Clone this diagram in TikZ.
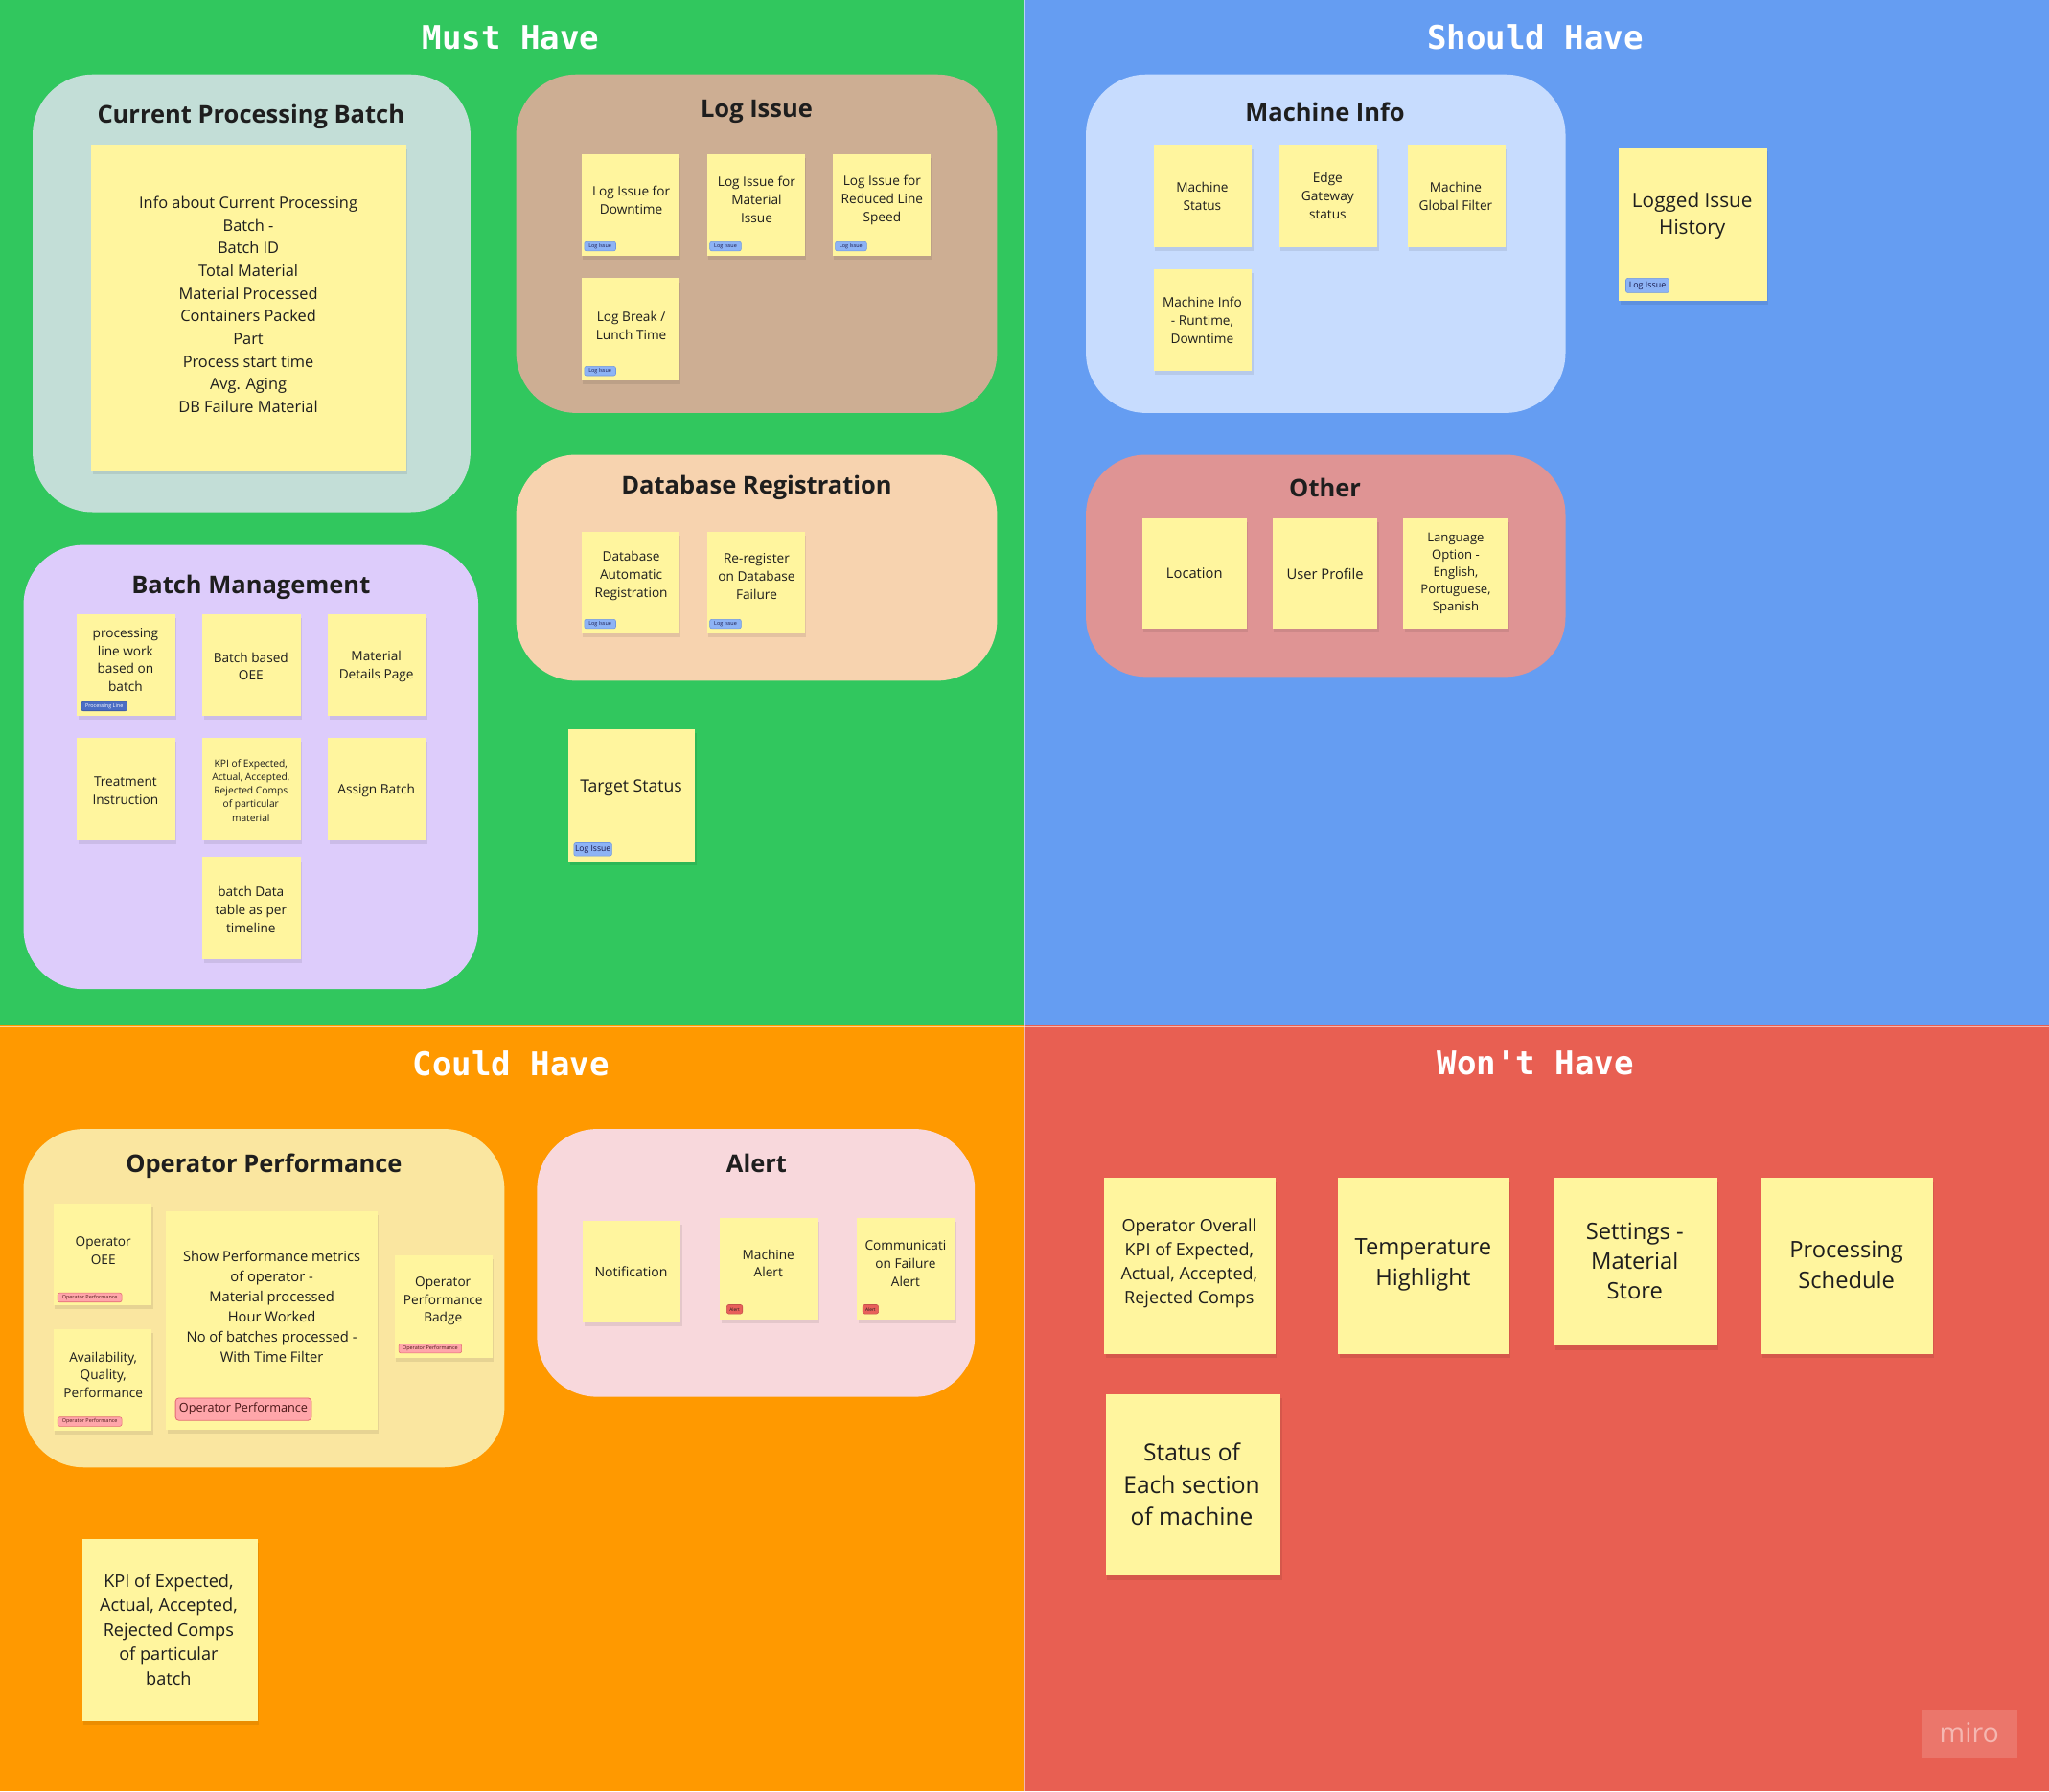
\documentclass[tikz,border=0pt]{standalone}
\usepackage{fontspec}
\setmainfont{Open Sans}
\setmonofont{DejaVu Sans Mono}
\usetikzlibrary{fit}
\definecolor{qgreen}{HTML}{31C75E}
\definecolor{qblue}{HTML}{659DF2}
\definecolor{qorange}{HTML}{FF9900}
\definecolor{qred}{HTML}{E85F52}
\definecolor{fteal}{HTML}{C3DED7}
\definecolor{ftan}{HTML}{CDAE93}
\definecolor{fpeach}{HTML}{F7D3AF}
\definecolor{flav}{HTML}{DDCCFB}
\definecolor{flblue}{HTML}{C7DCFE}
\definecolor{fother}{HTML}{DF9494}
\definecolor{fopp}{HTML}{FAE6A0}
\definecolor{falert}{HTML}{F8D8DC}
\definecolor{sticky}{HTML}{FFF59E}
\definecolor{txt}{HTML}{1E1E1E}
\definecolor{tagblue}{HTML}{8DB3F5}
\definecolor{tagblueb}{HTML}{6F97E0}
\definecolor{tagdark}{HTML}{4A6DC4}
\definecolor{tagpink}{HTML}{FFA6AA}
\definecolor{tagpinkb}{HTML}{E36A74}
\definecolor{tagred}{HTML}{E8605A}
\newcommand\fsz[2]{\fontsize{#1}{#2}\selectfont}
\newcommand\stk[5]{%
  \fill[black,opacity=0.08] (#2+1,#3+3) rectangle (#4+1,#5+3);
  \node[stickybox, fit={(#2,#3)(#4,#5)}] (#1) {};}
\newcommand\frm[6]{%
  \node[framebox, fill=#6, fit={(#2,#3)(#4,#5)}] (#1) {};}
\begin{document}
\begin{tikzpicture}[x=1pt,y=-1pt,
  quad/.style={inner sep=0pt, outer sep=0pt, draw=none},
  qtitle/.style={text=white, font=\ttfamily\bfseries\fsz{25}{30}, yshift=-0.8pt},
  framebox/.style={inner sep=0pt, outer sep=0pt, rounded corners=46pt, draw=none},
  ftitle/.style={text=txt, font=\bfseries\fsz{18.7}{22}, yshift=-2.5pt},
  stickybox/.style={inner sep=0pt, outer sep=0pt, fill=sticky, draw=none},
  stxt/.style={text=txt, align=center, inner sep=0pt, yshift=-1pt},
  tagb/.style={rounded corners=1.5pt, fill=tagblue, draw=tagblueb, line width=0.4pt, text=txt!80!blue, inner sep=0pt, anchor=west},
  tagp/.style={rounded corners=1.5pt, fill=tagpink, draw=tagpinkb, line width=0.4pt, text=txt!80!red, inner sep=0pt, anchor=west},
]
\useasboundingbox (0,0) rectangle (1568,1371);
% quadrants
\node[quad, fill=qgreen, fit={(0,0)(784,785)}] (q1) {};
\node[quad, fill=qblue, fit={(784,0)(1568,785)}] (q2) {};
\node[quad, fill=qorange, fit={(0,785)(784,1371)}] (q3) {};
\node[quad, fill=qred, fit={(784,785)(1568,1371)}] (q4) {};
\draw[white, opacity=0.55, line width=0.8pt] (784,0) -- (784,1371);
\draw[white, opacity=0.55, line width=0.8pt] (0,785.5) -- (1568,785.5);
\node[qtitle] (t1) at (391,28) {Must Have};
\node[qtitle] (t2) at (1175,28) {Should Have};
\node[qtitle] (t3) at (391,813) {Could Have};
\node[qtitle] (t4) at (1175,813) {Won't Have};

% ===== Must Have =====
\frm{fcpb}{25}{57}{360}{392}{fteal}
\node[ftitle] (fcpbt) at (192,87) {Current Processing Batch};
\stk{s1}{70}{111}{311}{360}
\node[stxt, font=\fsz{12.0}{17.35}] (s1t) at (190,232) {Info about Current Processing\\Batch -\\Batch ID\\Total Material\\Material Processed\\Containers Packed\\Part\\Process start time\\Avg. Aging\\DB Failure Material};

\frm{flog}{395}{57}{763}{316}{ftan}
\node[ftitle] (flogt) at (579,83) {Log Issue};
\stk{s2}{445}{118}{520}{196}
\node[stxt, font=\fsz{10}{13.9}] (s2t) at (483,152) {Log Issue for\\Downtime};
\node[tagb, minimum width=24pt, minimum height=7pt, font=\fsz{4}{4}] (s2g) at (447,188.5) {Log Issue};
\stk{s3}{541}{118}{616}{196}
\node[stxt, font=\fsz{10}{13.9}] (s3t) at (579,152) {Log Issue for\\Material\\Issue};
\node[tagb, minimum width=24pt, minimum height=7pt, font=\fsz{4}{4}] (s3g) at (543,188.5) {Log Issue};
\stk{s4}{637}{118}{712}{196}
\node[stxt, font=\fsz{10}{13.9}] (s4t) at (675,152) {Log Issue for\\Reduced Line\\Speed};
\node[tagb, minimum width=24pt, minimum height=7pt, font=\fsz{4}{4}] (s4g) at (639,188.5) {Log Issue};
\stk{s5}{445}{213}{520}{291}
\node[stxt, font=\fsz{10}{13.9}] (s5t) at (483,248) {Log Break /\\Lunch Time};
\node[tagb, minimum width=24pt, minimum height=7pt, font=\fsz{4}{4}] (s5g) at (447,284) {Log Issue};

\frm{fdb}{395}{348}{763}{521}{fpeach}
\node[ftitle] (fdbt) at (579,371) {Database Registration};
\stk{s6}{445}{407}{520}{485}
\node[stxt, font=\fsz{10}{13.9}] (s6t) at (483,440) {Database\\Automatic\\Registration};
\node[tagb, minimum width=24pt, minimum height=7pt, font=\fsz{4}{4}] (s6g) at (447,477.5) {Log Issue};
\stk{s7}{541}{407}{616}{485}
\node[stxt, font=\fsz{10}{13.9}] (s7t) at (579,440) {Re-register\\on Database\\Failure};
\node[tagb, minimum width=24pt, minimum height=7pt, font=\fsz{4}{4}] (s7g) at (543,477.5) {Log Issue};

\stk{s8}{435}{558}{532}{659}
\node[stxt, font=\fsz{12.9}{16}] (s8t) at (483,602) {Target Status};
\node[tagb, minimum width=29pt, minimum height=10pt, font=\fsz{6.3}{6.3}] (s8g) at (439,650) {Log Issue};

\frm{fbm}{18}{417}{366}{757}{flav}
\node[ftitle] (fbmt) at (192,447) {Batch Management};
\stk{s9}{59}{470}{134}{548}
\node[stxt, font=\fsz{10}{13.7}] (s9t) at (96,504) {processing\\line work\\based on\\batch};
\node[tagb, fill=tagdark, draw=tagdark!80!black, text=white, minimum width=35pt, minimum height=7pt, font=\fsz{4}{4}] (s9g) at (62,540.5) {Processing Line};
\stk{s10}{155}{470}{230}{548}
\node[stxt, font=\fsz{10}{13.7}] (s10t) at (192,509) {Batch based\\OEE};
\stk{s11}{251}{470}{326}{548}
\node[stxt, font=\fsz{10}{13.7}] (s11t) at (288,509) {Material\\Details Page};
\stk{s12}{59}{565}{134}{643}
\node[stxt, font=\fsz{10}{13.7}] (s12t) at (96,604) {Treatment\\Instruction};
\stk{s13}{155}{565}{230}{643}
\node[stxt, font=\fsz{7.5}{10.4}] (s13t) at (192,604) {KPI of Expected,\\Actual, Accepted,\\Rejected Comps\\of particular\\material};
\stk{s14}{251}{565}{326}{643}
\node[stxt, font=\fsz{10}{13.7}] (s14t) at (288,604) {Assign Batch};
\stk{s15}{155}{656}{230}{734}
\node[stxt, font=\fsz{10}{13.9}] (s15t) at (192,695) {batch Data\\table as per\\timeline};

% ===== Should Have =====
\frm{fmi}{831}{57}{1198}{316}{flblue}
\node[ftitle] (fmit) at (1014,83) {Machine Info};
\stk{s16}{883}{111}{958}{189}
\node[stxt, font=\fsz{10}{13.9}] (s16t) at (920,149) {Machine\\Status};
\stk{s17}{979}{111}{1054}{189}
\node[stxt, font=\fsz{10}{13.7}] (s17t) at (1016,149) {Edge\\Gateway\\status};
\stk{s18}{1077}{111}{1152}{189}
\node[stxt, font=\fsz{10}{13.9}] (s18t) at (1114,149) {Machine\\Global Filter};
\stk{s19}{883}{206}{958}{284}
\node[stxt, font=\fsz{10}{13.9}] (s19t) at (920,244) {Machine Info\\- Runtime,\\Downtime};

\stk{s20}{1239}{113}{1352}{230}
\node[stxt, font=\fsz{15.2}{20.5}] (s20t) at (1295,164) {Logged Issue\\History};
\node[tagb, minimum width=33pt, minimum height=11pt, font=\fsz{6.5}{6.5}] (s20g) at (1244,218.5) {Log Issue};

\frm{fot}{831}{348}{1198}{518}{fother}
\node[ftitle] (fott) at (1014,371) {Other};
\stk{s21}{874}{397}{954}{481}
\node[stxt, font=\fsz{10.8}{14}] (s21t) at (914,438) {Location};
\stk{s22}{974}{397}{1054}{481}
\node[stxt, font=\fsz{10.8}{14}] (s22t) at (1014,438) {User Profile};
\stk{s23}{1074}{397}{1154}{481}
\node[stxt, font=\fsz{9.6}{13.3}] (s23t) at (1114,438) {Language\\Option -\\English,\\Portuguese,\\Spanish};

% ===== Could Have =====
\frm{fop}{18}{864}{386}{1123}{fopp}
\node[ftitle] (fopt) at (202,890) {Operator Performance};
\stk{s24}{41}{921}{116}{999}
\node[stxt, font=\fsz{10}{13.9}] (s24t) at (79,956) {Operator\\OEE};
\node[tagp, minimum width=49pt, minimum height=7pt, font=\fsz{4}{4}] (s24g) at (44,993) {Operator Performance};
\stk{s25}{41}{1017}{116}{1095}
\node[stxt, font=\fsz{10}{13.6}] (s25t) at (79,1051) {Availability,\\Quality,\\Performance};
\node[tagp, minimum width=49pt, minimum height=7pt, font=\fsz{4}{4}] (s25g) at (44,1088) {Operator Performance};
\stk{s26}{127}{927}{289}{1094}
\node[stxt, font=\fsz{10.8}{15.3}] (s26t) at (208,999) {Show Performance metrics\\of operator -\\Material processed\\Hour Worked\\No of batches processed -\\With Time Filter};
\node[tagp, rounded corners=2.5pt, line width=0.6pt, minimum width=104pt, minimum height=17pt, font=\fsz{9.3}{9.3}] (s26g) at (134,1078.5) {Operator Performance};
\stk{s27}{302}{961}{377}{1039}
\node[stxt, font=\fsz{10}{13.6}] (s27t) at (339,995) {Operator\\Performance\\Badge};
\node[tagp, minimum width=48pt, minimum height=7pt, font=\fsz{4}{4}] (s27g) at (305,1032) {Operator Performance};

\frm{fal}{411}{864}{746}{1069}{falert}
\node[ftitle] (falt) at (579,888) {Alert};
\stk{s28}{446}{934}{521}{1012}
\node[stxt, font=\fsz{10.3}{14}] (s28t) at (483,972) {Notification};
\stk{s29}{551}{932}{626}{1010}
\node[stxt, font=\fsz{10}{13.6}] (s29t) at (588,966) {Machine\\Alert};
\node[tagp, fill=tagred, draw=tagred!85!black, text=txt, minimum width=12pt, minimum height=7pt, font=\fsz{3.5}{3.5}] (s29g) at (556,1002) {Alert};
\stk{s30}{656}{932}{731}{1010}
\node[stxt, font=\fsz{10}{14}] (s30t) at (693,966) {Communicati\\on Failure\\Alert};
\node[tagp, fill=tagred, draw=tagred!85!black, text=txt, minimum width=12pt, minimum height=7pt, font=\fsz{3.5}{3.5}] (s30g) at (660,1002) {Alert};

\stk{s31}{63}{1178}{197}{1317}
\node[stxt, font=\fsz{13.3}{18.7}] (s31t) at (129,1246) {KPI of Expected,\\Actual, Accepted,\\Rejected Comps\\of particular\\batch};

% ===== Won't Have =====
\stk{s32}{845}{901}{976}{1036}
\node[stxt, font=\fsz{13.2}{18.4}] (s32t) at (910,966) {Operator Overall\\KPI of Expected,\\Actual, Accepted,\\Rejected Comps};
\stk{s33}{1024}{901}{1155}{1036}
\node[stxt, font=\fsz{17.4}{23}] (s33t) at (1089,967) {Temperature\\Highlight};
\stk{s34}{1189}{901}{1314}{1030}
\node[stxt, font=\fsz{17.4}{22.5}] (s34t) at (1251,964) {Settings -\\Material\\Store};
\stk{s35}{1348}{901}{1479}{1036}
\node[stxt, font=\fsz{17.4}{23}] (s35t) at (1413,967) {Processing\\Schedule};
\stk{s36}{846}{1067}{980}{1206}
\node[stxt, font=\fsz{18}{24.5}] (s36t) at (912,1135) {Status of\\Each section\\of machine};

% watermark
\node[quad, fill=white, fill opacity=0.15, fit={(1471,1308)(1544,1346)}] (wm) {};
\node[text=white!55!qred, font=\fsz{21}{21}] (wmt) at (1507,1326) {miro};
\end{tikzpicture}
\end{document}
